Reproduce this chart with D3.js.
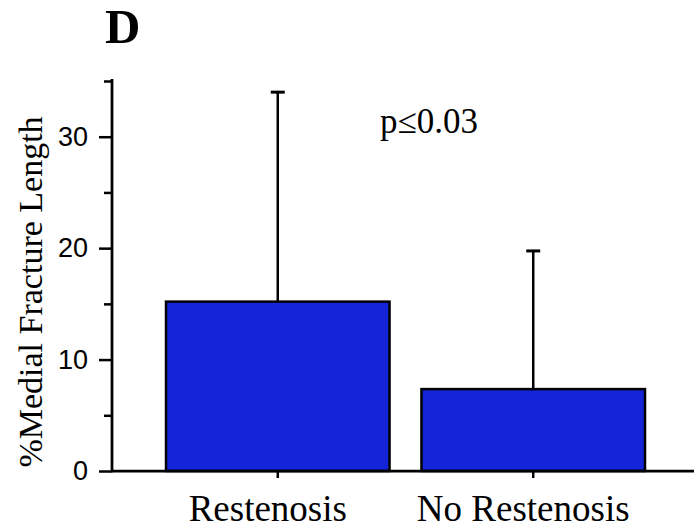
<!DOCTYPE html>
<html>
<head>
<meta charset="utf-8">
<script src="https://cdn.jsdelivr.net/npm/d3@7"></script>
<style>
  html, body { margin: 0; padding: 0; background: #fff; }
  svg { display: block; }
</style>
</head>
<body>
<svg id="chart" width="694" height="528"></svg>
<script>
// values
const groups = ['Restenosis', 'No Restenosis'];
const means  = [15.2, 7.35];
const sds    = [18.8, 12.4];
const majorTicks = [0, 10, 20, 30];
const minorTicks = [5, 15, 25, 35];

const SERIF = "'Liberation Serif','Times New Roman',serif";
const SANS  = "'Liberation Sans',Arial,sans-serif";
const BLUE  = '#1424d8';

const svg = d3.select('#chart');

const y = d3.scaleLinear().domain([0, 35]).range([471, 81]);
const x = d3.scaleBand().domain(groups).range([166, 645]).paddingInner(0.125).paddingOuter(0);
const AX = 112;

// bars
svg.selectAll('rect.bar').data(groups).join('rect').attr('class', 'bar')
  .attr('x', d => x(d))
  .attr('y', (d, i) => y(means[i]))
  .attr('width', x.bandwidth())
  .attr('height', (d, i) => y(0) - y(means[i]))
  .attr('fill', BLUE)
  .attr('stroke', '#000').attr('stroke-width', 2.5);

// error bars (upper only)
const cx = d => x(d) + x.bandwidth() / 2;
svg.selectAll('line.err').data(groups).join('line').attr('class', 'err')
  .attr('x1', cx).attr('x2', cx)
  .attr('y1', (d, i) => y(means[i]))
  .attr('y2', (d, i) => y(means[i] + sds[i]))
  .attr('stroke', '#000').attr('stroke-width', 2.5);
svg.selectAll('line.cap').data(groups).join('line').attr('class', 'cap')
  .attr('x1', d => cx(d) - 7).attr('x2', d => cx(d) + 7)
  .attr('y1', (d, i) => y(means[i] + sds[i]))
  .attr('y2', (d, i) => y(means[i] + sds[i]))
  .attr('stroke', '#000').attr('stroke-width', 3);

// x axis: long baseline plus short ticks at the group centres
svg.append('line')
  .attr('x1', AX).attr('x2', 694).attr('y1', y(0)).attr('y2', y(0))
  .attr('stroke', '#000').attr('stroke-width', 2.75);
const xa = svg.append('g').attr('transform', `translate(0,${y(0)})`)
  .call(d3.axisBottom(x).tickSize(7).tickSizeOuter(0).tickPadding(17));
xa.select('.domain').remove();
xa.selectAll('.tick line').attr('stroke-width', 2.5);
xa.selectAll('.tick text')
  .attr('font-family', SERIF).attr('font-size', 37).attr('fill', '#000')
  .attr('dx', -10).attr('dy', '0.71em');

// y axis: labelled major ticks and short minor ticks
const ya = svg.append('g').attr('transform', `translate(${AX},0)`)
  .call(d3.axisLeft(y).tickValues(majorTicks).tickSize(13).tickSizeOuter(0).tickPadding(11));
ya.select('.domain').remove();
ya.selectAll('.tick line').attr('stroke-width', 2.5);
ya.selectAll('.tick text')
  .attr('font-family', SANS).attr('font-size', 27).attr('fill', '#000');
const ym = svg.append('g').attr('transform', `translate(${AX},0)`)
  .call(d3.axisLeft(y).tickValues(minorTicks).tickSize(8).tickSizeOuter(0).tickFormat(''));
ym.select('.domain').remove();
ym.selectAll('.tick line').attr('stroke-width', 2.5);
svg.append('line')
  .attr('x1', AX).attr('x2', AX).attr('y1', y(35) - 2).attr('y2', y(0) + 1.25)
  .attr('stroke', '#000').attr('stroke-width', 2.75);

// y axis title
svg.append('text')
  .attr('transform', `translate(42,292) rotate(-90)`)
  .attr('text-anchor', 'middle')
  .attr('font-family', SERIF).attr('font-size', 34)
  .text('%Medial Fracture Length');

// panel letter and p value
svg.append('text').attr('x', 105).attr('y', 43)
  .attr('font-family', SERIF).attr('font-weight', 'bold').attr('font-size', 49)
  .text('D');
svg.append('text').attr('x', 380).attr('y', 133)
  .attr('font-family', SERIF).attr('font-size', 35)
  .text('p≤0.03');
</script>
</body>
</html>
